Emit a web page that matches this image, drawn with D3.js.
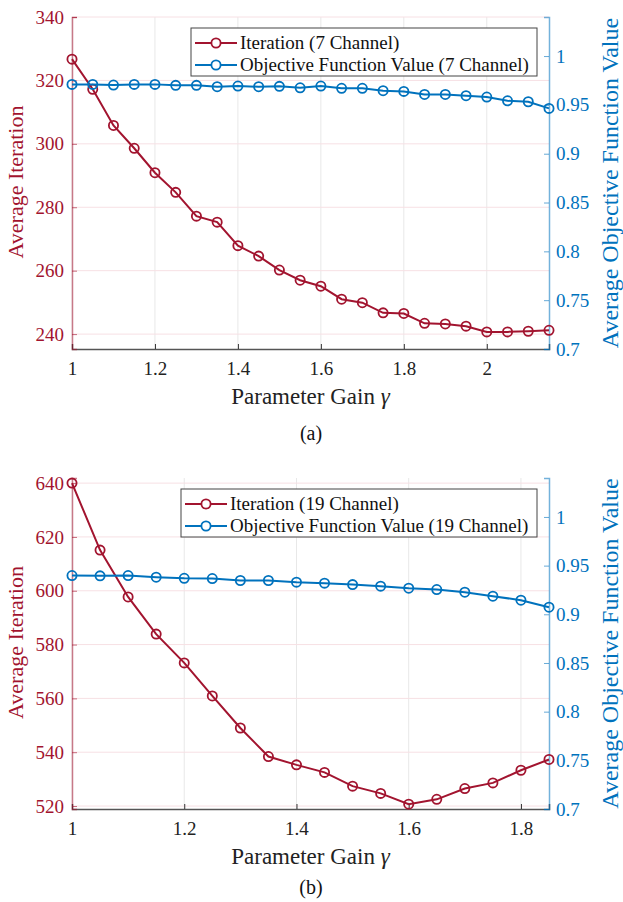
<!DOCTYPE html>
<html>
<head>
<meta charset="utf-8">
<script src="https://cdn.jsdelivr.net/npm/d3@7"></script>
<style>
  body { margin: 0; background: #fff; }
</style>
</head>
<body>
<div id="chart"></div>
<script>
// Data
var gainA = [1, 1.05, 1.1, 1.15, 1.2, 1.25, 1.3, 1.35, 1.4, 1.45, 1.5, 1.55, 1.6, 1.65, 1.7, 1.75, 1.8, 1.85, 1.9, 1.95, 2, 2.05, 2.1, 2.15];
var iterA = [326.7, 317.2, 305.8, 298.6, 290.9, 284.7, 277.2, 275.3, 267.9, 264.6, 260.2, 257.0, 255.1, 251.0, 249.9, 246.7, 246.5, 243.4, 243.2, 242.5, 240.7, 240.7, 240.9, 241.2];
var objA = [0.971, 0.971, 0.9703, 0.971, 0.971, 0.970, 0.970, 0.9686, 0.9693, 0.9686, 0.969, 0.9675, 0.9693, 0.967, 0.967, 0.9645, 0.9638, 0.9607, 0.9607, 0.9594, 0.958, 0.9542, 0.9532, 0.9464];

var gainB = [1, 1.05, 1.1, 1.15, 1.2, 1.25, 1.3, 1.35, 1.4, 1.45, 1.5, 1.55, 1.6, 1.65, 1.7, 1.75, 1.8, 1.85];
var iterB = [640, 615.1, 597.7, 583.9, 573.2, 560.9, 549.0, 538.4, 535.3, 532.5, 527.4, 524.7, 520.7, 522.5, 526.5, 528.6, 533.3, 537.3];
var objB = [0.9398, 0.9395, 0.9398, 0.9381, 0.937, 0.9367, 0.9347, 0.9347, 0.933, 0.932, 0.9305, 0.9289, 0.9268, 0.9254, 0.9227, 0.9186, 0.9145, 0.9073];

var xTicksA = [1, 1.2, 1.4, 1.6, 1.8, 2];
var xTicksB = [1, 1.2, 1.4, 1.6, 1.8];
var leftTicksA = [240, 260, 280, 300, 320, 340];
var leftTicksB = [520, 540, 560, 580, 600, 620, 640];
var rightTicks = [0.7, 0.75, 0.8, 0.85, 0.9, 0.95, 1];

var red = "#A2142F";
var blue = "#0072BD";

var svg = d3.select("#chart").append("svg")
    .attr("width", 623)
    .attr("height", 902);

function drawPanel(opt) {
    var left = 72, right = 549;
    var x = d3.scaleLinear().domain(opt.xDomain).range([left, right]);
    var yL = d3.scaleLinear().domain(opt.leftDomain).range([opt.bottom, opt.top]);
    var yR = d3.scaleLinear().domain([0.7, 1.04]).range([opt.bottom, opt.top]);
    var g = svg.append("g");

    // grid
    g.selectAll(".vgrid").data(opt.xTicks).enter().append("line")
        .attr("x1", d => x(d)).attr("x2", d => x(d))
        .attr("y1", opt.top).attr("y2", opt.bottom)
        .attr("stroke", "#e8e8e8").attr("stroke-width", 1);
    g.selectAll(".hgrid").data(opt.leftTicks).enter().append("line")
        .attr("x1", left).attr("x2", right)
        .attr("y1", d => yL(d)).attr("y2", d => yL(d))
        .attr("stroke", "#f7e0e4").attr("stroke-width", 1);

    // x axis
    var xAxis = d3.axisBottom(x).tickValues(opt.xTicks).tickSize(-5).tickPadding(13)
        .tickFormat(d3.format("~g"));
    var gx = g.append("g").attr("transform", "translate(0," + opt.bottom + ")").call(xAxis);
    gx.select(".domain").attr("stroke", "#555").attr("stroke-width", 1.5);
    gx.selectAll(".tick line").attr("stroke", "#333");
    gx.selectAll(".tick text").attr("font-size", 19).attr("fill", "#222");

    // left axis
    var lAxis = d3.axisLeft(yL).tickValues(opt.leftTicks).tickSize(-5).tickPadding(8);
    var gl = g.append("g").attr("transform", "translate(" + left + ",0)").call(lAxis);
    gl.select(".domain").attr("stroke", red).attr("stroke-opacity", 0.55).attr("stroke-width", 1.5);
    gl.selectAll(".tick line").attr("stroke", red).attr("stroke-opacity", 0.6);
    gl.selectAll(".tick text").attr("font-size", 19).attr("fill", red);

    // right axis
    var rAxis = d3.axisRight(yR).tickValues(rightTicks).tickSize(-5).tickPadding(7)
        .tickFormat(d3.format("~g"));
    var gr = g.append("g").attr("transform", "translate(" + right + ",0)").call(rAxis);
    gr.select(".domain").attr("stroke", blue).attr("stroke-opacity", 0.55).attr("stroke-width", 1.5);
    gr.selectAll(".tick line").attr("stroke", blue).attr("stroke-opacity", 0.6);
    gr.selectAll(".tick text").attr("font-size", 19).attr("fill", blue);

    // series
    function series(xs, ys, yScale, color) {
        var pts = xs.map((d, i) => [d, ys[i]]);
        g.append("path").datum(pts)
            .attr("fill", "none").attr("stroke", color).attr("stroke-width", 2)
            .attr("d", d3.line().x(d => x(d[0])).y(d => yScale(d[1])));
        g.selectAll(null).data(pts).enter().append("circle")
            .attr("cx", d => x(d[0])).attr("cy", d => yScale(d[1])).attr("r", 4.6)
            .attr("fill", "none").attr("stroke", color).attr("stroke-width", 1.8);
    }
    series(opt.gain, opt.iter, yL, red);
    series(opt.gain, opt.obj, yR, blue);

    // axis titles
    var midY = (opt.top + opt.bottom) / 2;
    g.append("text").attr("transform", "translate(23," + (midY - 1) + ") rotate(-90)")
        .attr("text-anchor", "middle").attr("font-size", 22).attr("fill", red)
        .text("Average Iteration");
    g.append("text").attr("transform", "translate(618," + midY + ") rotate(-90)")
        .attr("text-anchor", "middle").attr("font-size", 24).attr("fill", blue)
        .text("Average Objective Function Value");
    var xt = g.append("text").attr("x", (left + right) / 2).attr("y", opt.bottom + 55)
        .attr("text-anchor", "middle").attr("font-size", 23).attr("fill", "#222");
    xt.append("tspan").text("Parameter Gain ");
    xt.append("tspan").attr("font-style", "italic").text("\u03b3");
    g.append("text").attr("x", 311).attr("y", opt.captionY)
        .attr("text-anchor", "middle").attr("font-size", 20).attr("fill", "#111")
        .text(opt.caption);

    // legend
    var lg = g.append("g").attr("transform", "translate(" + opt.legX + "," + opt.legY + ")");
    lg.append("rect").attr("width", opt.legW).attr("height", 48)
        .attr("fill", "#fff").attr("stroke", "#444").attr("stroke-width", 1);
    [[red, opt.labels[0]], [blue, opt.labels[1]]].forEach(function (e, i) {
        var yy = 15 + i * 22;
        lg.append("line").attr("x1", 4).attr("x2", 46).attr("y1", yy).attr("y2", yy)
            .attr("stroke", e[0]).attr("stroke-width", 2);
        lg.append("circle").attr("cx", 25).attr("cy", yy).attr("r", 4.6)
            .attr("fill", "#fff").attr("stroke", e[0]).attr("stroke-width", 1.8);
        lg.append("text").attr("x", 49).attr("y", yy + 6).attr("font-size", 19)
            .attr("fill", "#111").text(e[1]);
    });
}

drawPanel({
    top: 17, bottom: 349, xDomain: [1, 2.15], leftDomain: [235.3, 340],
    xTicks: xTicksA, leftTicks: leftTicksA,
    gain: gainA, iter: iterA, obj: objA,
    caption: "(a)", captionY: 440,
    legX: 191, legY: 28, legW: 346,
    labels: ["Iteration (7 Channel)", "Objective Function Value (7 Channel)"]
});

drawPanel({
    top: 478, bottom: 809, xDomain: [1, 1.85], leftDomain: [518.9, 641.9],
    xTicks: xTicksB, leftTicks: leftTicksB,
    gain: gainB, iter: iterB, obj: objB,
    caption: "(b)", captionY: 894,
    legX: 181, legY: 489, legW: 356,
    labels: ["Iteration (19 Channel)", "Objective Function Value (19 Channel)"]
});

// serif everywhere (inline style wins over the axis font attribute)
svg.selectAll("text").style("font-family", "'Liberation Serif', 'Times New Roman', serif");
</script>
</body>
</html>
